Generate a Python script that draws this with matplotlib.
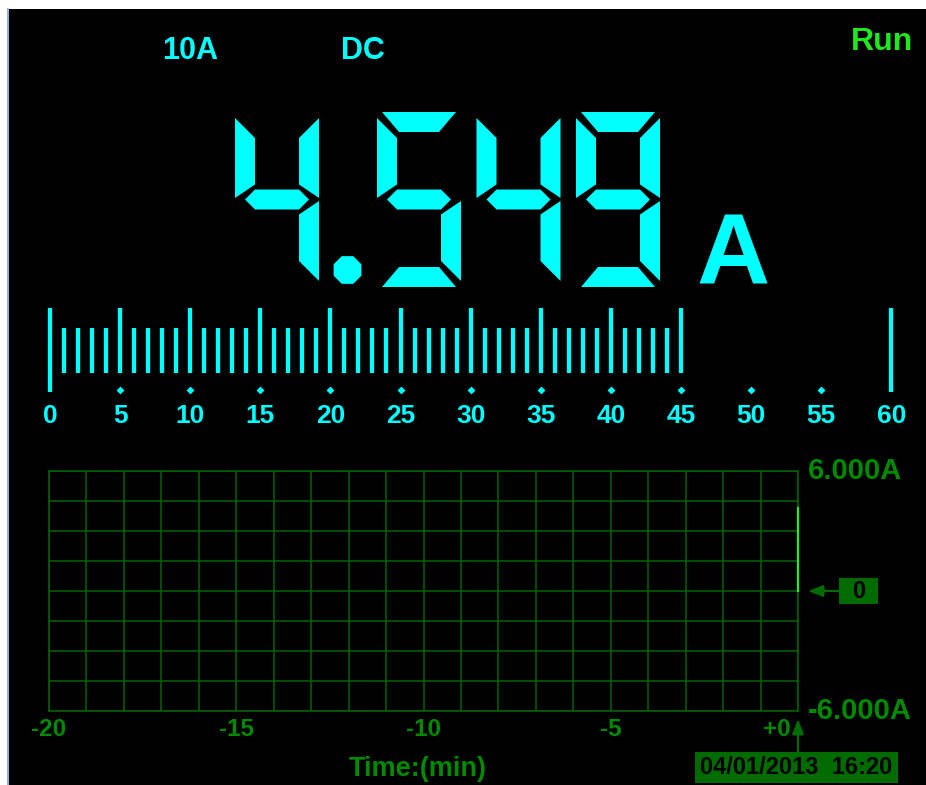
import matplotlib
matplotlib.use("Agg")
import matplotlib.pyplot as plt
from matplotlib.patches import Polygon, Rectangle, RegularPolygon
from matplotlib.transforms import blended_transform_factory
from matplotlib import font_manager
import numpy as np

# ---------------- data ----------------
range_label = "10A"
mode_label = "DC"
status_label = "Run"
reading = "4.549"
unit_label = "A"
bar_scale_labels = [0, 5, 10, 15, 20, 25, 30, 35, 40, 45, 50, 55, 60]
bar_lit = 45          # lit bargraph segments
bar_full = 60
trend_xticks = [-20, -15, -10, -5, 0]
trend_xticklabels = ["-20", "-15", "-10", "-5", "+0"]
trend_ymax = 6.0
trend_ymin = -6.0
trend_ymax_label = "6.000A"
trend_ymin_label = "-6.000A"
trend_time = [0.0, 0.0]
trend_current = [0.0, 4.15]
zero_marker_label = "0"
timestamp = "04/01/2013  16:20"
time_axis_label = "Time:(min)"

# ---------------- style ----------------
W_PX, H_PX, DPI = 926, 785, 100
CYAN = "#00ffff"
RUN_GREEN = "#1ee81e"
TXT_GREEN = "#008a00"
GRID_GREEN = "#006400"
BOX_GREEN = "#006c00"
TRACE_GREEN = "#22ee22"
names = {f.name for f in font_manager.fontManager.ttflist}
FONT = ["Liberation Sans", "DejaVu Sans"] if "Liberation Sans" in names else ["DejaVu Sans"]
plt.rcParams["font.family"] = FONT

fig = plt.figure(figsize=(W_PX / DPI, H_PX / DPI), dpi=DPI, facecolor="white")


def fig_rect(x0, y0, x1, y1):
    return [x0 / W_PX, 1 - y1 / H_PX, (x1 - x0) / W_PX, (y1 - y0) / H_PX]


# background / overlay axes in pixel units
bg = fig.add_axes([0, 0, 1, 1])
bg.set_xlim(0, W_PX)
bg.set_ylim(H_PX, 0)
bg.axis("off")
bg.add_patch(Rectangle((9, 9), W_PX - 9, H_PX - 9, facecolor="black", edgecolor="none", zorder=0))
bg.plot([8, 8], [9, H_PX], color="#7f9be0", lw=1.2, zorder=1)

# header texts
bg.text(162, 59, range_label, color=CYAN, fontsize=22, fontweight="bold", ha="left", va="baseline")
bg.text(341, 59, mode_label, color=CYAN, fontsize=22, fontweight="bold", ha="left", va="baseline")
bg.text(882, 50, status_label, color=RUN_GREEN, fontsize=23, fontweight="bold", ha="center", va="baseline")

# ---------------- seven segment reading ----------------
DW, DH, T = 84.0, 175.0, 20.0
MID = DH / 2
seg_a = [(5, 0), (DW - 5, 0), (DW - T - 2, T), (T + 2, T)]
seg_f = [(0, 6), (T, 6 + T), (T, MID - 15), (0, MID - 1.5)]
seg_g = [(T / 2, MID), (T, MID - T / 2), (DW - T, MID - T / 2), (DW - T / 2, MID),
         (DW - T, MID + T / 2), (T, MID + T / 2)]


def mx(pts):
    return [(DW - x, y) for x, y in pts]


def my(pts):
    return [(x, DH - y) for x, y in pts]


SEGS = {
    "a": seg_a, "d": my(seg_a), "f": seg_f, "b": mx(seg_f),
    "e": my(seg_f), "c": mx(my(seg_f)), "g": seg_g,
}
DIGIT_SEGS = {
    "0": "abcdef", "1": "bc", "2": "abdeg", "3": "abcdg", "4": "bcfg",
    "5": "acdfg", "6": "acdefg", "7": "abc", "8": "abcdefg", "9": "abcdfg",
}

x_cur, y_top = 235.0, 112.0
for ch in reading:
    if ch == ".":
        bg.add_patch(RegularPolygon((x_cur + 13, 270), numVertices=8, radius=15,
                                    orientation=np.pi / 8, facecolor=CYAN, edgecolor="none"))
        x_cur += 42.5
        continue
    for s in DIGIT_SEGS[ch]:
        pts = [(x_cur + x, y_top + y) for x, y in SEGS[s]]
        bg.add_patch(Polygon(pts, closed=True, facecolor=CYAN, edgecolor="none"))
    x_cur += 99.5

bg.text(733, 285, unit_label, color=CYAN, fontsize=73, fontweight="bold", ha="center", va="baseline")

# ---------------- bargraph ruler ----------------
rx = fig.add_axes(fig_rect(50, 300, 891.2, 430))
rx.set_xlim(0, bar_full)
rx.set_ylim(430, 300)
rx.axis("off")
rx.patch.set_alpha(0)
lit = np.arange(0, bar_lit + 1)
minor = [v for v in lit if v % 5 != 0]
major = [v for v in lit if v % 5 == 0 and v not in (0, bar_full)]
ends = [0, bar_full]
rx.vlines(minor, 328, 373, color=CYAN, lw=3.1, clip_on=False)
rx.vlines(major, 308, 373, color=CYAN, lw=3.1, clip_on=False)
rx.vlines(ends, 308, 392, color=CYAN, lw=3.1, clip_on=False)
dot_pos = [v for v in bar_scale_labels if v not in (0, bar_full)]
rx.scatter(dot_pos, [390] * len(dot_pos), marker="D", s=16, color=CYAN, linewidths=0, clip_on=False)
for v in bar_scale_labels:
    rx.text(v, 416, str(v), color=CYAN, fontsize=19, fontweight="bold", ha="center", va="center",
            clip_on=False)

# ---------------- trend plot ----------------
tx = fig.add_axes(fig_rect(49, 471, 798, 711))
tx.set_xlim(trend_xticks[0], trend_xticks[-1])
tx.set_ylim(trend_ymin, trend_ymax)
tx.patch.set_alpha(0)
tx.set_xticks(np.arange(trend_xticks[0], trend_xticks[-1] + 1, 1))
tx.set_yticks(np.linspace(trend_ymin, trend_ymax, 9))
tx.grid(True, color=GRID_GREEN, lw=1.1)
tx.tick_params(length=0, labelbottom=False, labelleft=False)
for sp in tx.spines.values():
    sp.set_color(GRID_GREEN)
    sp.set_linewidth(1.1)
tx.plot(trend_time, trend_current, color=TRACE_GREEN, lw=1.6, clip_on=False, zorder=5)

tx_x_bg_y = blended_transform_factory(tx.transData, bg.transData)
bg_x_tx_y = blended_transform_factory(bg.transData, tx.transData)

for v, lab in zip(trend_xticks, trend_xticklabels):
    if v == trend_xticks[-1]:
        tx.text(v - 0.2, 729, lab, transform=tx_x_bg_y, color=TXT_GREEN, fontsize=17.5,
                fontweight="bold", ha="right", va="center", clip_on=False)
    else:
        tx.text(v, 729, lab, transform=tx_x_bg_y, color=TXT_GREEN, fontsize=17.5,
                fontweight="bold", ha="center", va="center", clip_on=False)

tx.text(808, trend_ymax, trend_ymax_label, transform=bg_x_tx_y, color=TXT_GREEN, fontsize=21,
        fontweight="bold", ha="left", va="center", clip_on=False)
tx.text(808, trend_ymin, trend_ymin_label, transform=bg_x_tx_y, color=TXT_GREEN, fontsize=21,
        fontweight="bold", ha="left", va="center", clip_on=False)

# zero marker
tx.annotate("", xy=(808, 0), xytext=(840, 0), xycoords=bg_x_tx_y, textcoords=bg_x_tx_y,
            arrowprops=dict(arrowstyle="-|>,head_length=0.9,head_width=0.35", color=BOX_GREEN,
                            lw=1.5, shrinkA=0, shrinkB=0), annotation_clip=False)
tx.add_patch(Rectangle((839, -0.65), 39, 1.3, transform=bg_x_tx_y, facecolor=BOX_GREEN,
                       edgecolor="none", clip_on=False))
tx.text(858.5, 0, zero_marker_label, transform=bg_x_tx_y, color="black", fontsize=17,
        fontweight="bold", ha="center", va="center", clip_on=False)

# timestamp with arrow
tx.annotate("", xy=(0, 719), xytext=(0, 752), xycoords=tx_x_bg_y, textcoords=tx_x_bg_y,
            arrowprops=dict(arrowstyle="-|>,head_length=0.9,head_width=0.35", color=BOX_GREEN,
                            lw=1.5, shrinkA=0, shrinkB=0), annotation_clip=False)
bg.add_patch(Rectangle((695, 752), 203, 31, facecolor=BOX_GREEN, edgecolor="none", zorder=3))
bg.text(796.5, 768, timestamp, color="black", fontsize=17, fontweight="bold", ha="center",
        va="center", zorder=4)

bg.text(418, 769, time_axis_label, color=TXT_GREEN, fontsize=19.5, fontweight="bold",
        ha="center", va="center")

fig.savefig("out.png", dpi=DPI, facecolor=fig.get_facecolor())
